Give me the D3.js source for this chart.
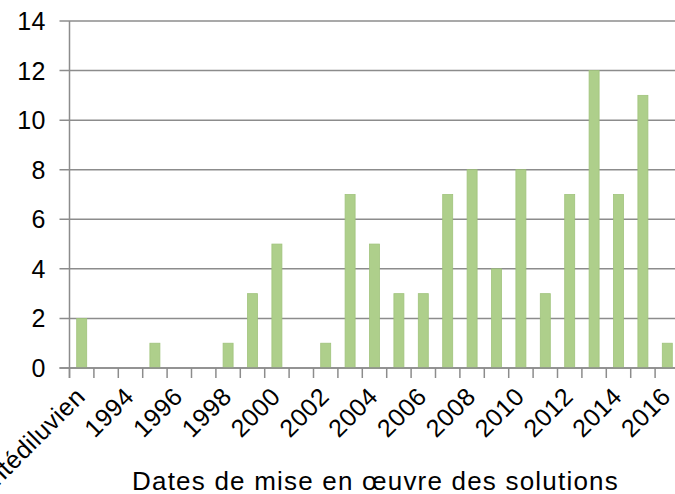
<!DOCTYPE html>
<html>
<head>
<meta charset="utf-8">
<script src="https://cdn.jsdelivr.net/npm/d3@7"></script>
<style>
 body { margin: 0; background: #fff; }
 svg { display: block; font-family: "Liberation Sans", Arial, sans-serif; }
</style>
</head>
<body>
<div id="chart"></div>
<script>
// categories: "Antédiluvien" then each year 1993..2016
var categories = ['Antédiluvien', '1993', '1994', '1995', '1996', '1997', '1998', '1999', '2000',
 '2001', '2002', '2003', '2004', '2005', '2006', '2007', '2008', '2009', '2010',
 '2011', '2012', '2013', '2014', '2015', '2016'];
// number of solutions per category
var counts = [2, 0, 0, 1, 0, 0, 1, 3, 5, 0, 1, 7, 5, 3, 3, 7, 8, 4, 8, 3, 7, 12, 7, 11, 1];
var yTicks = [0, 2, 4, 6, 8, 10, 12, 14];
var xTitle = 'Dates de mise en œuvre des solutions';

var chartW = 675, chartH = 494;
// plot area edges
var plotLeft = 69.5, plotRight = 679.5, plotTop = 21, plotBottom = 368;

var svg = d3.select('#chart').append('svg')
 .attr('width', chartW)
 .attr('height', chartH);

var x = d3.scaleBand().domain(categories).range([plotLeft, plotRight]).paddingInner(0.59).paddingOuter(0.295);
var step = (plotRight - plotLeft) / categories.length;
var y = d3.scaleLinear().domain([0, 14]).range([plotBottom, plotTop]);

// horizontal gridlines (also act as the left tick marks)
svg.append('g').selectAll('line').data(yTicks).enter().append('line')
 .attr('x1', plotLeft - 10).attr('x2', chartW + 10)
 .attr('y1', function(d){ return y(d); })
 .attr('y2', function(d){ return y(d); })
 .style('stroke', '#8c8c8c').style('stroke-width', 1.5);

// y tick labels
svg.append('g').selectAll('text').data(yTicks).enter().append('text')
 .attr('x', 46)
 .attr('y', function(d){ return y(d); })
 .attr('dy', '0.36em')
 .attr('text-anchor', 'end')
 .style('font-size', '25px')
 .style('letter-spacing', '0.5px')
 .style('fill', '#000')
 .text(function(d){ return d; });

// bars
svg.append('g').selectAll('rect').data(counts).enter().append('rect')
 .attr('x', function(d, i){ return x(categories[i]); })
 .attr('width', x.bandwidth())
 .attr('y', function(d){ return y(d); })
 .attr('height', function(d){ return y(0) - y(d); })
 .style('fill', '#aecf8b')
 .style('stroke', '#a0c37c')
 .style('stroke-width', 0.8);

// vertical axis line
svg.append('line')
 .attr('x1', plotLeft).attr('x2', plotLeft)
 .attr('y1', plotTop).attr('y2', plotBottom + 10)
 .style('stroke', '#8c8c8c').style('stroke-width', 1.5);

// horizontal axis + tick marks at category boundaries
svg.append('line')
 .attr('x1', plotLeft - 10).attr('x2', plotRight)
 .attr('y1', plotBottom).attr('y2', plotBottom)
 .style('stroke', '#8c8c8c').style('stroke-width', 1.5);
svg.append('g').selectAll('line').data(d3.range(categories.length + 1)).enter().append('line')
 .attr('x1', function(i){ return plotLeft + i * step; })
 .attr('x2', function(i){ return plotLeft + i * step; })
 .attr('y1', plotBottom).attr('y2', plotBottom + 10)
 .style('stroke', '#8c8c8c').style('stroke-width', 1.5);

// x labels, every other category, rotated
svg.append('g').selectAll('text')
 .data(categories.filter(function(d, i){ return i % 2 == 0; }))
 .enter().append('text')
 .attr('text-anchor', 'end')
 .attr('transform', function(d){
  return 'translate(' + (x(d) + x.bandwidth() / 2 + 5) + ',398) rotate(-45)';
 })
 .style('font-size', '25px')
 .style('letter-spacing', '0.5px')
 .style('fill', '#000')
 .text(function(d){ return d; });

// axis title
svg.append('text')
 .attr('x', 375.5)
 .attr('y', 490)
 .attr('text-anchor', 'middle')
 .style('font-size', '26px')
 .style('letter-spacing', '1.2px')
 .style('fill', '#000')
 .text(xTitle);
</script>
</body>
</html>
